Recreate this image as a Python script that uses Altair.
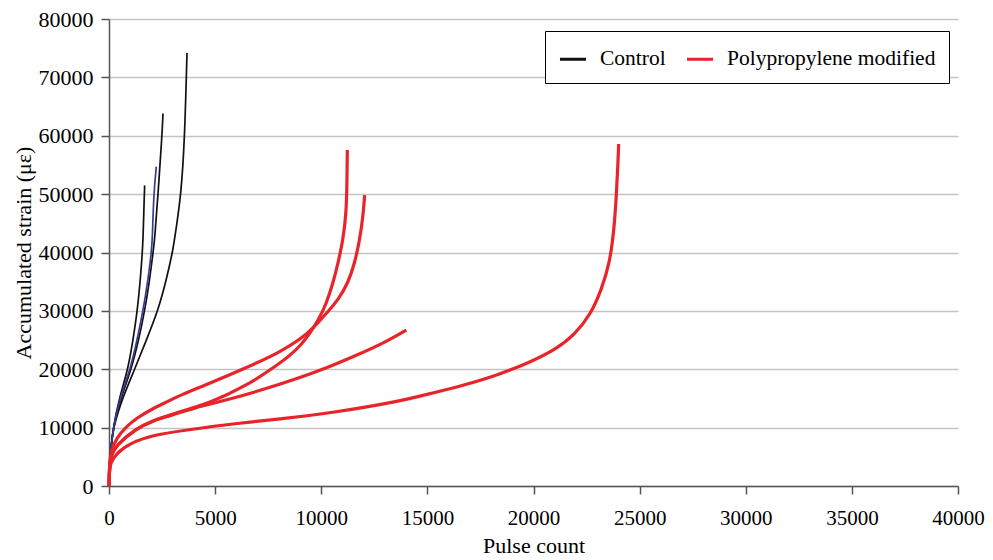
import altair as alt
import pandas as pd

# ---- data (pulse count, accumulated strain in microstrain) ----
c1_x = [0, 30, 80, 190, 503, 895, 1130, 1335, 1476, 1570, 1602, 1665, 1680]
c1_y = [0, 3000, 6000, 10000, 15300, 20000, 25000, 30000, 35300, 40000, 42100, 50000, 51500]

c2_x = [0, 30, 80, 190, 534, 1005, 1320, 1602, 1837, 1995, 2042, 2104, 2230]
c2_y = [0, 3000, 6000, 10000, 15300, 20000, 25000, 30000, 35300, 40000, 42100, 50000, 54700]

c3_x = [0, 30, 80, 190, 581, 1052, 1398, 1680, 1916, 2073, 2152, 2309, 2497, 2544]
c3_y = [0, 3000, 6000, 10000, 15300, 20000, 25000, 30000, 35300, 40000, 42100, 50000, 60000, 63800]

c4_x = [0, 30, 80, 190, 660, 1210, 1759, 2309, 2700, 2990, 3080, 3408, 3565, 3643, 3675]
c4_y = [0, 3000, 6000, 10000, 15300, 20000, 25000, 30000, 35300, 40000, 42100, 50000, 60000, 70000, 74200]

r1_x = [0, 20, 63, 345, 1288, 2073, 2858, 4820, 6393, 7962, 9063, 9925, 10240, 10554, 10789, 11025, 11181, 11213, 11228]
r1_y = [0, 3000, 5200, 7020, 9880, 11200, 12200, 14300, 17010, 20730, 23870, 28730, 31300, 34720, 38150, 42140, 46710, 52420, 57560]

r2_x = [0, 20, 63, 345, 816, 1288, 2073, 2858, 3251, 4820, 6393, 7962, 9220, 9850, 10318, 10789, 11260, 11574, 11810, 11967, 12047]
r2_y = [0, 2500, 5880, 8170, 10160, 11600, 13300, 14620, 15400, 17700, 20160, 22730, 25580, 28000, 29860, 31860, 34720, 38150, 42140, 46140, 49850]

r3_x = [0, 20, 63, 345, 1288, 2073, 2858, 4000, 5607, 7962, 9847, 11888, 13000, 14008]
r3_y = [0, 3000, 5000, 7020, 9880, 11200, 12000, 13400, 14730, 17300, 19580, 22730, 24600, 26720]

r4_x = [0, 20, 63, 345, 973, 2073, 3643, 6000, 7962, 10554, 13615, 15185, 16758, 18327, 19896, 20998, 21940, 22724, 23195, 23590, 23793, 23902, 23980, 24013]
r4_y = [0, 2500, 3880, 5600, 7310, 8740, 9590, 10740, 11400, 12560, 14440, 15870, 17300, 19010, 21300, 23300, 25870, 29580, 33580, 38150, 43850, 49560, 55280, 58590]

groups = ["Control", "Polypropylene modified"]
x_ticks = [0, 5000, 10000, 15000, 20000, 25000, 30000, 35000, 40000]
y_ticks = [0, 10000, 20000, 30000, 40000, 50000, 60000, 70000, 80000]

curves = [
    ("C1", "Control", c1_x, c1_y),
    ("C2", "Control", c2_x, c2_y),
    ("C3", "Control", c3_x, c3_y),
    ("C4", "Control", c4_x, c4_y),
    ("R1", "Polypropylene modified", r1_x, r1_y),
    ("R2", "Polypropylene modified", r2_x, r2_y),
    ("R3", "Polypropylene modified", r3_x, r3_y),
    ("R4", "Polypropylene modified", r4_x, r4_y),
]
rows = []
for name, grp, xs, ys in curves:
    for i, (xv, yv) in enumerate(zip(xs, ys)):
        rows.append({"curve": name, "group": grp, "pulses": xv, "strain": yv, "idx": i})
df = pd.DataFrame(rows)

FONT = "Liberation Serif"
AX = dict(labelFont=FONT, labelColor="black", labelFlush=False,
          titleFont=FONT, titleFontSize=22, titleFontWeight="normal", titleColor="black",
          domainColor="#555555", domainWidth=1.5, tickColor="#555555", tickWidth=1.5,
          tickSize=8, gridColor="#c4c4c4", gridWidth=1.5)

x_enc = alt.X(
    "pulses:Q",
    scale=alt.Scale(domain=[0, 40000], nice=False),
    axis=alt.Axis(values=x_ticks, format="d", grid=False, title="Pulse count",
                  labelFontSize=21, labelPadding=13, titlePadding=7, **AX),
)
y_enc = alt.Y(
    "strain:Q",
    scale=alt.Scale(domain=[0, 80000], nice=False),
    axis=alt.Axis(values=y_ticks, format="d", grid=True, title="Accumulated strain (με)",
                  labelFontSize=22, labelPadding=8, titlePadding=3, **AX),
)
color_enc = alt.Color(
    "group:N",
    scale=alt.Scale(domain=groups, range=["#111111", "#e8232a"]),
    legend=alt.Legend(
        title=None, orient="none", legendX=436, legendY=12, direction="horizontal",
        strokeColor="black", padding=13, symbolType="stroke", symbolSize=680,
        symbolStrokeWidth=3, labelOffset=12, columnPadding=14, labelLimit=400,
        labelFont=FONT, labelFontSize=21.5, labelColor="black", fillColor="white",
    ),
)

base = alt.Chart(df)

black = base.transform_filter(
    (alt.datum.group == "Control") & (alt.datum.curve != "C2")
).mark_line(interpolate="basis", strokeWidth=1.7).encode(
    x=x_enc, y=y_enc, color=color_enc, detail="curve:N", order="idx:Q"
)

blue = base.transform_filter(alt.datum.curve == "C2").mark_line(
    interpolate="basis", strokeWidth=1.7, color="#3a3a90"
).encode(x=x_enc, y=y_enc, order="idx:Q")

red = base.transform_filter(alt.datum.group == "Polypropylene modified").mark_line(
    interpolate="basis", strokeWidth=3.2
).encode(x=x_enc, y=y_enc, color=color_enc, detail="curve:N", order="idx:Q")

chart = alt.layer(black, blue, red).properties(
    width=849, height=467,
    autosize=alt.AutoSizeParams(type="none"),
    padding={"left": 101, "top": 11, "right": 27, "bottom": 74},
    background="white",
).configure_view(strokeWidth=0)

chart.save("out.html", embed_options={"renderer": "svg", "actions": False})
